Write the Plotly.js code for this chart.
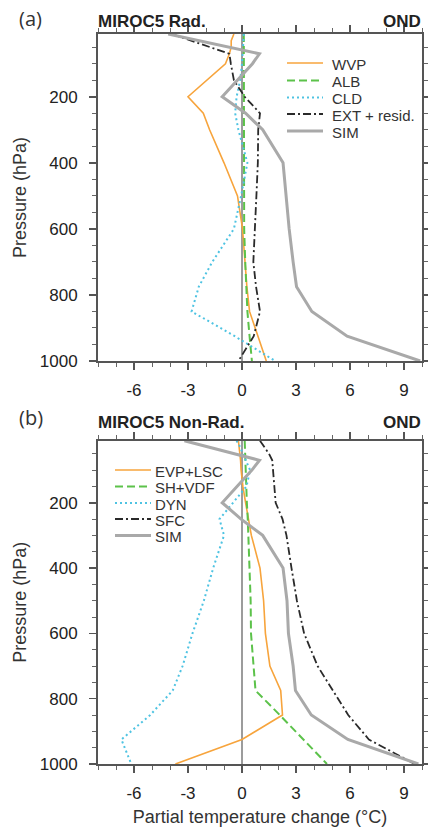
<!DOCTYPE html>
<html><head><meta charset="utf-8">
<script src="https://cdn.plot.ly/plotly-3.0.1.min.js"></script>
<style>html,body{margin:0;padding:0;background:#fff}#chart{width:428px;height:830px}</style>
</head><body><div id="chart"></div>
<script>
// ---------- data ----------
const pressure = [10, 30, 50, 70, 100, 150, 200, 250, 300, 400, 500, 600, 700, 775, 850, 925, 1000];

// Panel (a) MIROC5 Rad.
const wvp  = [-0.45, -0.6, -0.6, -0.7, -0.92, -1.93, -3.0, -2.15, -1.8, -1.0, -0.25, 0.03, 0.15, 0.27, 0.42, 0.88, 1.35];
const alb  = [0.1, 0.1, 0.1, 0.1, 0.1, 0.1, 0.1, 0.1, 0.1, 0.1, 0.1, 0.12, 0.18, 0.22, 0.3, 0.42, 0.55];
const cld  = [0.1, 0.08, 0.05, 0.05, 0.0, -0.1, -0.3, -0.38, -0.2, 0.3, -0.05, -0.45, -1.65, -2.4, -2.8, -0.4, 1.85];
const ext  = [-3.9, -2.8, -1.75, -0.7, -0.62, -0.45, 0.15, 1.0, 0.9, 0.88, 0.8, 0.7, 0.63, 0.78, 1.0, 0.65, -0.2];
const simA = [-4.1, -2.4, -0.72, 0.97, 0.58, -0.24, -1.1, 0.2, 1.15, 2.28, 2.45, 2.62, 2.84, 3.03, 3.88, 5.84, 9.9];

// Panel (b) MIROC5 Non-Rad.
const evpLsc = [-0.2, -0.15, -0.1, -0.08, -0.05, 0.05, 0.2, 0.35, 0.52, 1.0, 1.2, 1.3, 1.55, 2.15, 2.25, 0.0, -3.7];
const shVdf  = [0.15, 0.16, 0.18, 0.19, 0.2, 0.22, 0.27, 0.32, 0.36, 0.42, 0.48, 0.5, 0.62, 0.75, 2.1, 3.4, 4.72];
const dyn    = [-0.3, -0.1, 0.05, 0.2, 0.45, 0.25, -0.5, -1.25, -1.0, -1.6, -2.12, -2.75, -3.3, -3.85, -5.1, -6.7, -6.15];
const sfc    = [1.0, 1.25, 1.5, 1.68, 1.73, 1.78, 1.87, 2.25, 2.47, 2.75, 3.05, 3.45, 4.2, 5.05, 5.9, 7.05, 9.6];
const simB   = [-3.2, -1.81, -0.42, 0.97, 0.55, -0.27, -1.1, -0.05, 1.15, 2.28, 2.5, 2.58, 2.84, 2.97, 3.85, 5.88, 9.8];

// tick labels / names
const xTickVals = [-6, -3, 0, 3, 6, 9];
const xTickText = ['-6', '-3', '0', '3', '6', '9'];
const yTickVals = [200, 400, 600, 800, 1000];
const yTickText = ['200', '400', '600', '800', '1000'];
const namesA = ['WVP', 'ALB', 'CLD', 'EXT + resid.', 'SIM'];
const namesB = ['EVP+LSC', 'SH+VDF', 'DYN', 'SFC', 'SIM'];

// ---------- styles ----------
const ORANGE = '#f7a43c', GREEN = '#5cc24a', CYAN = '#4ec3e2', BLACK = '#2a2a2a', GRAY = '#a9a9a9';
const stylesA = [
  {color: ORANGE, width: 1.6, dash: 'solid'},
  {color: GREEN,  width: 2,   dash: '8px,4px'},
  {color: CYAN,   width: 2,   dash: '2px,3px'},
  {color: BLACK,  width: 1.8, dash: '8px,3px,2px,3px'},
  {color: GRAY,   width: 3,   dash: 'solid'}
];
const stylesB = stylesA.map(s => Object.assign({}, s));

const FONT = 'Liberation Sans, Arial, Helvetica, sans-serif';

// ---------- geometry ----------
const W = 428, H = 830, L = 98, R = 6, T = 34, B = 66;
const PW = W - L - R, PH = H - T - B;
const px = x => (x - L) / PW;
const py = y => (H - B - y) / PH;

const seriesA = [wvp, alb, cld, ext, simA];
const seriesB = [evpLsc, shVdf, dyn, sfc, simB];

const traces = [];
seriesA.forEach((s, i) => traces.push({
  type: 'scatter', mode: 'lines', x: s, y: pressure, name: namesA[i],
  xaxis: 'x', yaxis: 'y', line: stylesA[i], showlegend: false, hoverinfo: 'skip'
}));
seriesB.forEach((s, i) => traces.push({
  type: 'scatter', mode: 'lines', x: s, y: pressure, name: namesB[i],
  xaxis: 'x2', yaxis: 'y2', line: stylesB[i], showlegend: false, hoverinfo: 'skip'
}));
// draw SIM first so it sits below other lines (as in reference it is drawn on top; keep order)

function xAxis(anchor, withTitle) {
  const a = {
    anchor: anchor, domain: [0, 1], range: [-8, 10],
    tickmode: 'array', tickvals: xTickVals, ticktext: xTickText,
    ticks: 'outside', ticklen: 7, tickwidth: 1.5, tickcolor: '#555',
    minor: {tickmode: 'linear', tick0: 0, dtick: 1, ticks: 'outside', ticklen: 4, tickwidth: 1, tickcolor: '#666'},
    showline: true, linecolor: '#555', linewidth: 2, mirror: 'ticks',
    showgrid: false, zeroline: true, zerolinecolor: '#9c9c9c', zerolinewidth: 2,
    tickfont: {family: FONT, size: 17, color: '#222'},
    ticklabelstandoff: 6, fixedrange: true
  };
  if (withTitle) a.title = {text: 'Partial temperature change (°C)', font: {family: FONT, size: 18, color: '#333'}, standoff: 8};
  return a;
}
function yAxis(anchor, domain) {
  return {
    anchor: anchor, domain: domain, range: [1000, 10],
    tickmode: 'array', tickvals: yTickVals, ticktext: yTickText,
    ticks: 'outside', ticklen: 7, tickwidth: 1.5, tickcolor: '#555',
    minor: {tickmode: 'linear', tick0: 0, dtick: 50, ticks: 'outside', ticklen: 4, tickwidth: 1, tickcolor: '#666'},
    showline: true, linecolor: '#555', linewidth: 2, mirror: 'ticks',
    showgrid: false, zeroline: false,
    tickfont: {family: FONT, size: 17, color: '#222'},
    ticklabelstandoff: 8,
    title: {text: 'Pressure (hPa)', font: {family: FONT, size: 18, color: '#333'}, standoff: 8},
    fixedrange: true
  };
}

const annotations = [];
const shapes = [];
function txt(text, x, y, xanchor, size, family, color) {
  annotations.push({text: text, xref: 'paper', yref: 'paper', x: px(x), y: py(y),
    xanchor: xanchor, yanchor: 'middle', showarrow: false,
    font: {family: family || FONT, size: size, color: color || '#222'}});
}
txt('(a)', 17, 18, 'left', 20, 'Open Sans, DejaVu Sans, sans-serif', '#333');
txt('<b>MIROC5 Rad.</b>', 96, 21, 'left', 17);
txt('<b>OND</b>', 423, 21, 'right', 17);
txt('(b)', 17, 417, 'left', 20, 'Open Sans, DejaVu Sans, sans-serif', '#333');
txt('<b>MIROC5 Non-Rad.</b>', 96, 422, 'left', 17);
txt('<b>OND</b>', 423, 422, 'right', 17);

function legend(names, styles, x0, x1, xt, rows) {
  names.forEach((n, i) => {
    shapes.push({type: 'line', xref: 'paper', yref: 'paper', x0: px(x0), x1: px(x1), y0: py(rows[i]), y1: py(rows[i]),
      line: {color: styles[i].color, width: styles[i].width, dash: styles[i].dash}});
    txt(n, xt, rows[i] + 1, 'left', 15, FONT, '#333');
  });
}
legend(namesA, stylesA, 287, 323, 330, [63, 80.5, 97.5, 114, 131]);
legend(namesB, stylesB, 115, 151, 153, [470, 486.5, 503, 519, 535.5]);

const layout = {
  width: W, height: H, margin: {l: L, r: R, t: T, b: B},
  paper_bgcolor: '#fff', plot_bgcolor: '#fff', showlegend: false,
  xaxis: xAxis('y', false),
  yaxis: yAxis('x', [py(361), 1]),
  xaxis2: xAxis('y2', true),
  yaxis2: yAxis('x2', [0, py(440.7)]),
  annotations: annotations, shapes: shapes
};
Plotly.newPlot('chart', traces, layout, {staticPlot: true, displayModeBar: false});
</script></body></html>
